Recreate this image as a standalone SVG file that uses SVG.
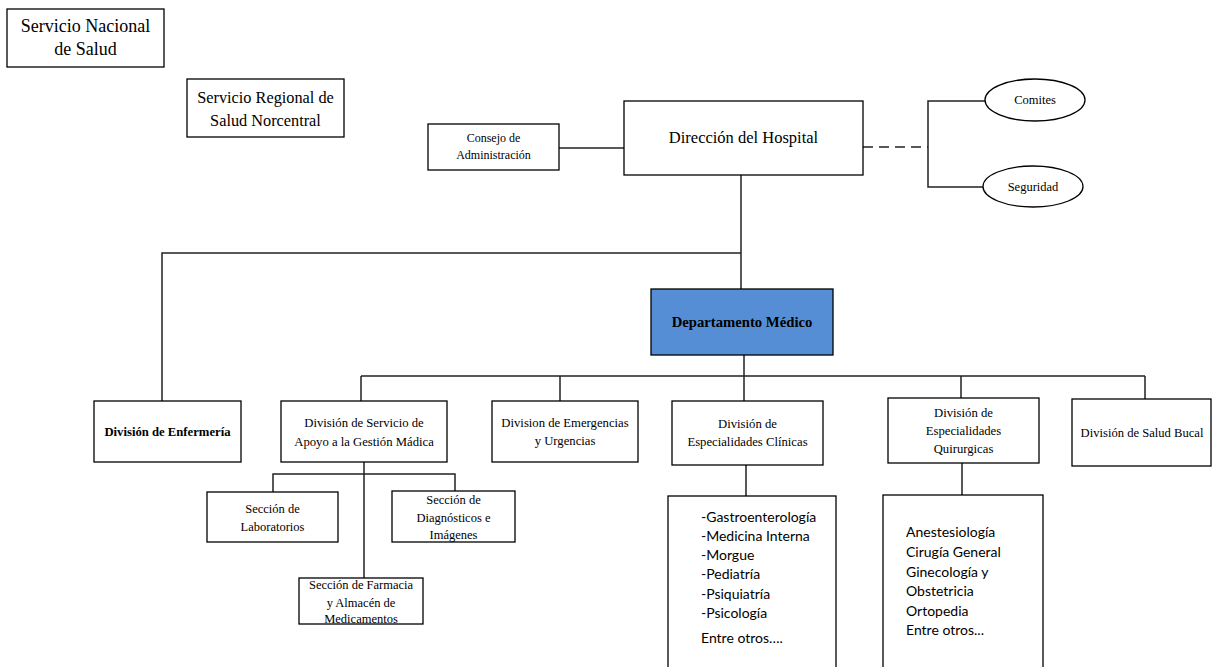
<svg xmlns="http://www.w3.org/2000/svg" width="1212" height="667" viewBox="0 0 1212 667">
<style>
.box{fill:#ffffff;stroke:#000000;stroke-width:1.3}
.blue{fill:#558ED5;stroke:#000000;stroke-width:1.3}
.t{font-family:"Liberation Serif","Times New Roman",serif;fill:#000000;text-anchor:middle}
.b{font-weight:bold}
.s{font-family:Lato,"Noto Sans",sans-serif;fill:#000000;font-size:14px}
.c{fill:none;stroke:#222222;stroke-width:1.5}
.d{stroke-dasharray:10 6}
</style>
<rect width="1212" height="667" fill="#ffffff"/>
<g id="connectors">
<path class="c" d="M559 148H624"/>
<path class="c d" d="M863 147H928"/>
<path class="c" d="M985 101H928V187H983"/>
<path class="c" d="M741 175V289"/>
<path class="c" d="M741 253H162V401"/>
<path class="c" d="M744 355V376M361 376H1145M361 376V401M560 376V401M744 376V401M961 376V398M1145 376V399"/>
<path class="c" d="M364 462V578M273 492V474H455V491"/>
<path class="c" d="M746 465V496M962 463V495"/>
</g>
<g id="servicio-nacional">
<rect class="box" x="7" y="9" width="157" height="58"/>
<text class="t" x="85.5" y="32" font-size="18">Servicio Nacional</text>
<text class="t" x="85.5" y="55" font-size="18">de Salud</text>
</g>
<g id="servicio-regional">
<rect class="box" x="187" y="79" width="157" height="58"/>
<text class="t" x="265.5" y="103" font-size="16.3">Servicio Regional de</text>
<text class="t" x="265.5" y="126" font-size="16.3">Salud Norcentral</text>
</g>
<g id="consejo">
<rect class="box" x="428" y="124" width="131" height="46"/>
<text class="t" x="493.5" y="142" font-size="12">Consejo de</text>
<text class="t" x="493.5" y="159" font-size="12">Administración</text>
</g>
<g id="direccion">
<rect class="box" x="624" y="101" width="239" height="74"/>
<text class="t" x="743.5" y="143" font-size="16.5">Dirección del Hospital</text>
</g>
<g id="comites">
<ellipse class="box" cx="1035" cy="100" rx="50" ry="21"/>
<text class="t" x="1035" y="104" font-size="12.5">Comites</text>
</g>
<g id="seguridad">
<ellipse class="box" cx="1033" cy="186.5" rx="50" ry="20.5"/>
<text class="t" x="1033" y="191" font-size="12.5">Seguridad</text>
</g>
<g id="departamento-medico">
<rect class="blue" x="651" y="289" width="182" height="66"/>
<text class="t b" x="742" y="327" font-size="14.7">Departamento Médico</text>
</g>
<g id="enfermeria">
<rect class="box" x="94" y="401" width="147" height="61"/>
<text class="t b" x="167.5" y="436" font-size="12.7">División de Enfermería</text>
</g>
<g id="apoyo">
<rect class="box" x="281" y="401" width="166" height="61"/>
<text class="t" x="364" y="427" font-size="12.7">División de Servicio de</text>
<text class="t" x="364" y="446" font-size="12.7">Apoyo a la Gestión Mádica</text>
</g>
<g id="emergencias">
<rect class="box" x="492" y="401" width="146" height="61"/>
<text class="t" x="565" y="427" font-size="12.7">Division de Emergencias</text>
<text class="t" x="565" y="445" font-size="12.7">y Urgencias</text>
</g>
<g id="clinicas">
<rect class="box" x="672" y="401" width="151" height="64"/>
<text class="t" x="747.5" y="428" font-size="12.7">División de</text>
<text class="t" x="747.5" y="446" font-size="12.7">Especialidades Clínicas</text>
</g>
<g id="quirurgicas">
<rect class="box" x="888" y="398" width="151" height="65"/>
<text class="t" x="963.5" y="417" font-size="12.7">División de</text>
<text class="t" x="963.5" y="435" font-size="12.7">Especialidades</text>
<text class="t" x="963.5" y="453" font-size="12.7">Quirurgicas</text>
</g>
<g id="bucal">
<rect class="box" x="1072" y="399" width="139" height="67"/>
<text class="t" x="1142" y="437" font-size="12.6">División de Salud Bucal</text>
</g>
<g id="laboratorios">
<rect class="box" x="207" y="492" width="131" height="50"/>
<text class="t" x="272.5" y="513" font-size="12.5">Sección de</text>
<text class="t" x="272.5" y="531" font-size="12.5">Laboratorios</text>
</g>
<g id="diagnosticos">
<rect class="box" x="392" y="491" width="123" height="51"/>
<text class="t" x="453.5" y="504" font-size="12.5">Sección de</text>
<text class="t" x="453.5" y="522" font-size="12.5">Diagnósticos e</text>
<text class="t" x="453.5" y="539" font-size="12.5">Imágenes</text>
</g>
<g id="farmacia">
<rect class="box" x="299" y="578" width="124" height="46"/>
<text class="t" x="361" y="589" font-size="12.5">Sección de Farmacia</text>
<text class="t" x="361" y="607" font-size="12.5">y Almacén de</text>
<text class="t" x="361" y="623" font-size="12.5">Medicamentos</text>
</g>
<g id="lista-clinicas">
<rect class="box" x="668" y="496" width="168" height="190"/>
<text class="s" x="701" y="522">-Gastroenterología</text>
<text class="s" x="701" y="541">-Medicina Interna</text>
<text class="s" x="701" y="560">-Morgue</text>
<text class="s" x="701" y="579">-Pediatría</text>
<text class="s" x="701" y="599">-Psiquiatría</text>
<text class="s" x="701" y="618">-Psicología</text>
<text class="s" x="701" y="643">Entre otros….</text>
</g>
<g id="lista-quirurgicas">
<rect class="box" x="883" y="495" width="160" height="190"/>
<text class="s" x="906" y="537">Anestesiología</text>
<text class="s" x="906" y="557">Cirugía General</text>
<text class="s" x="906" y="577">Ginecología y</text>
<text class="s" x="906" y="596">Obstetricia</text>
<text class="s" x="906" y="616">Ortopedia</text>
<text class="s" x="906" y="635">Entre otros...</text>
</g>
</svg>
